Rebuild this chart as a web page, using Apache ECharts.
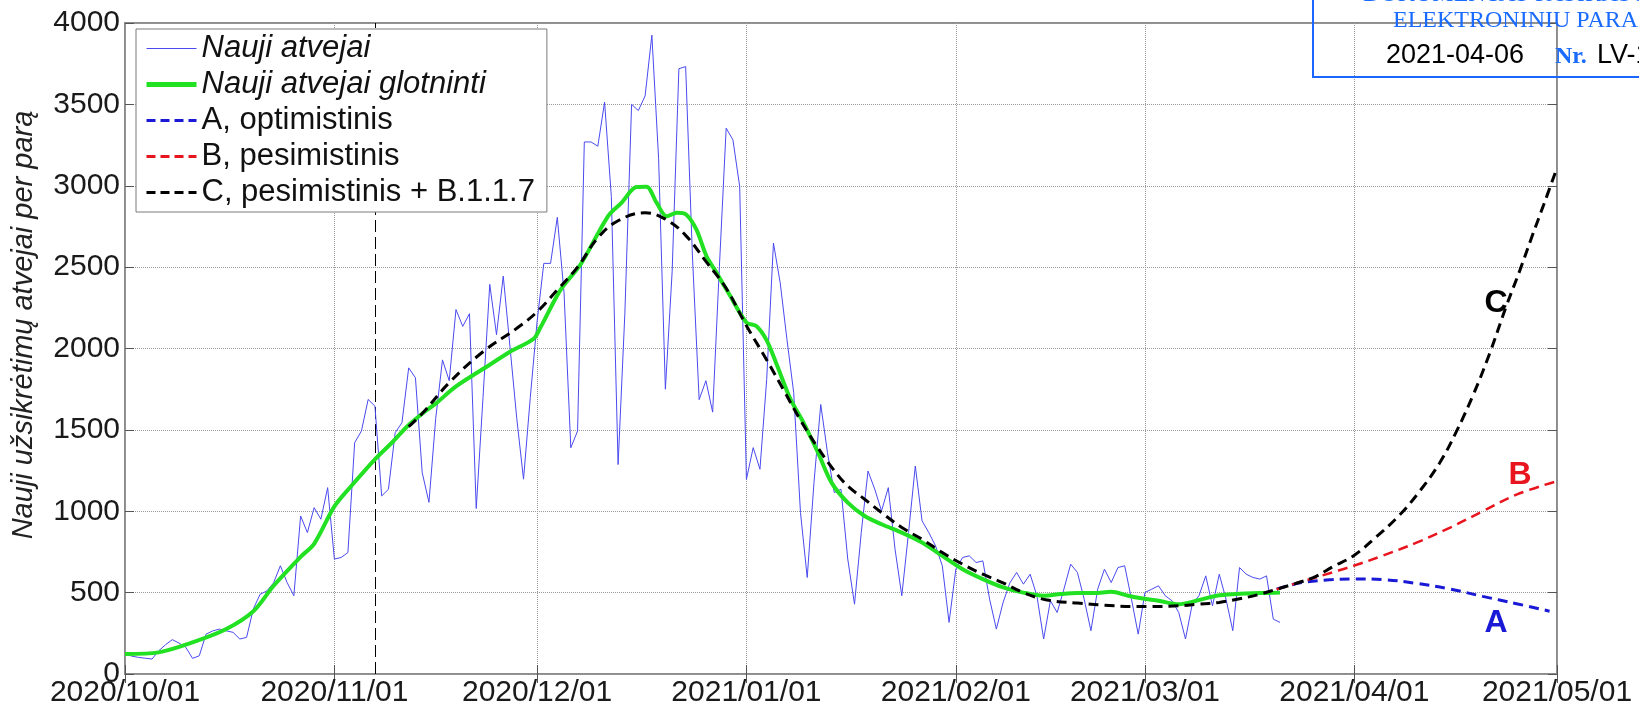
<!DOCTYPE html>
<html>
<head>
<meta charset="utf-8">
<title>Nauji atvejai</title>
<script src="https://cdn.jsdelivr.net/npm/echarts@6.0.0/dist/echarts.min.js"></script>
<style>
html,body{margin:0;padding:0;background:#fff;}
#chart{width:1639px;height:708px;}
</style>
</head>
<body>
<div id="chart"></div>
<script>
// dienos skaiciuojamos nuo 2020/10/01
var startDay = new Date(2020, 9, 1).getTime();
var DAY = 86400000;

var xTickLabels = ['2020/10/01','2020/11/01','2020/12/01','2021/01/01','2021/02/01','2021/03/01','2021/04/01','2021/05/01'];
var markDay = '2020/11/07';
var yTitle = 'Nauji užsikrėtimų atvejai per parą';

// nauji atvejai per diena (nuo 10/01 iki 03/21)
var dailyCases = [123,110,102,97,92,143,180,211,190,164,
	96,112,245,265,276,265,256,215,225,400,
	490,510,560,665,562,481,971,869,1022,951,
	1145,706,716,746,1421,1493,1687,1646,1094,1135,
	1483,1544,1881,1820,1237,1055,1570,1930,1802,2239,
	2136,2214,1017,1699,2394,2085,2445,2008,1570,1197,
	1699,2162,2523,2523,2806,2342,1390,1493,3269,3269,
	3243,3514,2934,1287,2214,3500,3462,3552,3925,3166,
	1750,2471,3719,3732,2574,1686,1802,1609,2505,3354,
	3282,2996,1196,1391,1258,1810,2648,2403,2055,1728,
	992,593,1176,1656,1360,1115,1135,706,429,869,
	1247,1135,1002,1145,767,481,869,1278,941,869,
	787,665,317,644,716,726,685,695,460,276,
	440,560,624,552,613,481,215,450,378,521,
	675,624,460,266,521,644,562,654,665,460,
	245,501,521,542,481,450,378,215,429,481,
	603,419,613,460,266,654,613,593,583,603,
	337,317];

// glotninti
var smoothDays = [0,5,10,15,19,22,26,28,31,33.5,37,39.5,42,44.5,46,49,54,57,60.5,61.5,64.5,67.5,71.5,73.5,75.7,77.2,78.7,80.2,81.7,83.1,84.6,86.1,87.6,89.5,92,93.5,95,96.5,98.5,100.5,102.6,104.6,107,109.5,112,115,118,121,124,127,130,133,136,138.5,141,143.5,146,148.5,150.7,153,156,158.6,161.6,164.5,168,171];
var smoothVals = [123,133,194,276,385,542,720,800,1030,1155,1319,1421,1530,1616,1661,1767,1900,1980,2060,2129,2362,2520,2812,2895,2992,2994,2896,2812,2834,2822,2730,2566,2464,2330,2160,2137,2050,1900,1690,1540,1360,1176,1053,971,920,869,808,726,644,583,532,500,481,491,497,497,505,481,464,450,429,450,481,491,497,500];

// scenarijai
var aDays = [170.5,174,178.8,181.9,186.2,191.2,196.1,201,206,210.9];
var aVals = [521,560,580,584,580,557,523,477,432,386];
var bDays = [170.5,174,178.8,181.9,186.2,191.2,196.1,201,206,212];
var bVals = [521,565,625,665,727,807,898,1000,1102,1185];
var cDays = [42,44,48,53,58,61,64,67,70,73,77,80,83,86,89,92,95,97.5,100,102.5,105,107,109.5,112,115,118,121,124,127,130,133,136.5,141,145,149,152,156,159,162,165,168,170.5,174,176.4,178.8,181.9,185.2,188.7,191.7,194.6,197.1,199.6,202,204.5,206.5,208.4,210,212];
var cVals = [1520,1600,1790,1980,2124,2225,2360,2500,2680,2785,2834,2795,2695,2535,2370,2140,1930,1745,1560,1395,1250,1155,1074,992,900,828,746,675,613,560,500,455,436,423,415,415,419,429,440,462,490,521,565,602,659,727,841,977,1125,1295,1489,1716,1966,2261,2480,2700,2880,3110];

var FONT = '"Liberation Sans", Arial, sans-serif';
var BLUE = '#4a4af0', GREEN = '#22e022', DARKBLUE = '#1a1ad6', RED = '#e8141e';

function dayToTime(d){ return startDay + d * DAY; }
function labelTime(s){
	var p = s.split('/');
	return new Date(+p[0], +p[1] - 1, +p[2]).getTime();
}
function pairs(days, vals){
	var out = [];
	for(var i = 0; i < days.length; i++){
		out.push([dayToTime(days[i]), vals[i]]);
	}
	return out;
}
var tickTimes = xTickLabels.map(labelTime);
var dailyData = dailyCases.map(function(v, i){ return [dayToTime(i), v]; });

function tickName(v){
	for(var i = 0; i < tickTimes.length; i++){
		if(Math.abs(tickTimes[i] - v) < DAY / 2) return xTickLabels[i];
	}
	return '';
}

var myChart = echarts.init(document.getElementById('chart'));
var option = {
	animation: false,
	backgroundColor: '#fff',
	grid: {left: 125, right: 82, top: 23, bottom: 33, show: true, borderColor: '#8c8c8c', borderWidth: 2, backgroundColor: '#fff'},
	legend: {
		orient: 'vertical', left: 136, top: 29, z: 20,
		backgroundColor: '#fff', borderColor: '#7a7a7a', borderWidth: 1,
		padding: [4, 12, 4, 8], itemGap: 5, itemWidth: 50, itemHeight: 14,
		itemStyle: {opacity: 0},
		textStyle: {fontSize: 31, fontFamily: FONT, color: '#111'},
		data: [
			{name: 'Nauji atvejai', textStyle: {fontStyle: 'italic'}, lineStyle: {color: BLUE, width: 1}},
			{name: 'Nauji atvejai glotninti', textStyle: {fontStyle: 'italic'}, lineStyle: {color: GREEN, width: 5}},
			{name: 'A, optimistinis', lineStyle: {color: DARKBLUE, width: 3, type: [9, 5]}},
			{name: 'B, pesimistinis', lineStyle: {color: RED, width: 3, type: [9, 5]}},
			{name: 'C, pesimistinis + B.1.1.7', lineStyle: {color: '#000', width: 3, type: [9, 5]}}
		]
	},
	xAxis: [{
		type: 'value', position: 'bottom',
		min: tickTimes[0], max: tickTimes[tickTimes.length - 1],
		axisLine: {show: false},
		axisTick: {show: true, inside: true, length: 9, customValues: tickTimes, lineStyle: {color: '#555'}},
		axisLabel: {customValues: tickTimes, formatter: tickName, fontSize: 30, fontFamily: FONT, color: '#1a1a1a', margin: 4, hideOverlap: false},
		splitLine: {show: true, lineStyle: {color: '#9a9a9a', type: 'dotted', width: 1}}
	}, {
		type: 'value', position: 'top',
		min: tickTimes[0], max: tickTimes[tickTimes.length - 1],
		axisLine: {show: false},
		axisTick: {show: true, inside: true, length: 9, customValues: tickTimes, lineStyle: {color: '#555'}},
		axisLabel: {show: false},
		splitLine: {show: false}
	}],
	yAxis: [{
		type: 'value', min: 0, max: 4000, interval: 500,
		axisLine: {show: false},
		axisTick: {show: true, inside: true, length: 9, lineStyle: {color: '#555'}},
		axisLabel: {fontSize: 30, fontFamily: FONT, color: '#1a1a1a', margin: 5, formatter: function(v){ return String(v); }},
		splitLine: {show: true, lineStyle: {color: '#9a9a9a', type: 'dotted', width: 1}}
	}, {
		type: 'value', position: 'right', min: 0, max: 4000, interval: 500,
		axisLine: {show: false},
		axisTick: {show: true, inside: true, length: 9, lineStyle: {color: '#555'}},
		axisLabel: {show: false},
		splitLine: {show: false}
	}],
	series: [{
		name: 'Nauji atvejai', type: 'line', data: dailyData, z: 3,
		symbol: 'none', lineStyle: {color: BLUE, width: 1}, itemStyle: {color: BLUE},
		markLine: {
			silent: true, z: 1, symbol: ['none', 'none'], label: {show: false},
			lineStyle: {color: '#000', width: 1, type: [12, 5]},
			data: [{xAxis: labelTime(markDay)}]
		}
	}, {
		name: 'Nauji atvejai glotninti', type: 'line', data: pairs(smoothDays, smoothVals), z: 3,
		symbol: 'none', smooth: 0.3, lineStyle: {color: GREEN, width: 4}, itemStyle: {color: GREEN}
	}, {
		name: 'A, optimistinis', type: 'line', data: pairs(aDays, aVals), z: 3,
		symbol: 'none', smooth: 0.4, lineStyle: {color: DARKBLUE, width: 3, type: [10, 6]}, itemStyle: {color: DARKBLUE}
	}, {
		name: 'B, pesimistinis', type: 'line', data: pairs(bDays, bVals), z: 3,
		symbol: 'none', smooth: 0.4, lineStyle: {color: RED, width: 2.5, type: [10, 6]}, itemStyle: {color: RED}
	}, {
		name: 'C, pesimistinis + B.1.1.7', type: 'line', data: pairs(cDays, cVals), z: 3,
		symbol: 'none', smooth: 0.4, lineStyle: {color: '#000', width: 3, type: [10, 6]}, itemStyle: {color: '#000'}
	}],
	graphic: [
		{type: 'text', rotation: Math.PI / 2, x: 24, y: 325, style: {text: yTitle, font: 'italic 29px ' + FONT, fill: '#222', align: 'center', verticalAlign: 'middle'}},
		{type: 'text', x: 1496, y: 303, style: {text: 'C', font: 'bold 32px ' + FONT, fill: '#000', align: 'center', verticalAlign: 'middle'}},
		{type: 'text', x: 1520, y: 475, style: {text: 'B', font: 'bold 32px ' + FONT, fill: RED, align: 'center', verticalAlign: 'middle'}},
		{type: 'text', x: 1496, y: 623, style: {text: 'A', font: 'bold 32px ' + FONT, fill: DARKBLUE, align: 'center', verticalAlign: 'middle'}},
		// spaudas virsuje desineje
		{type: 'rect', z: 30, shape: {x: 1313, y: -10, width: 400, height: 87}, style: {fill: 'none', stroke: '#1a66ff', lineWidth: 2}},
		{type: 'text', z: 30, x: 1363, y: -5, style: {text: 'DOKUMENTAS PASIRAŠYTAS', font: '24px "Liberation Serif", serif', fill: '#1a6bff', verticalAlign: 'middle'}},
		{type: 'text', z: 30, x: 1393, y: 21, style: {text: 'ELEKTRONINIU PARAŠU', font: '24px "Liberation Serif", serif', fill: '#1a6bff', verticalAlign: 'middle'}},
		{type: 'text', z: 30, x: 1386, y: 56, style: {text: '2021-04-06', font: '27px ' + FONT, fill: '#000', verticalAlign: 'middle'}},
		{type: 'text', z: 30, x: 1555, y: 57, style: {text: 'Nr.', font: 'bold 24px "Liberation Serif", serif', fill: '#1a6bff', verticalAlign: 'middle'}},
		{type: 'text', z: 30, x: 1597, y: 56, style: {text: 'LV-1', font: '27px ' + FONT, fill: '#000', verticalAlign: 'middle'}}
	]
};
myChart.setOption(option);
</script>
</body>
</html>
